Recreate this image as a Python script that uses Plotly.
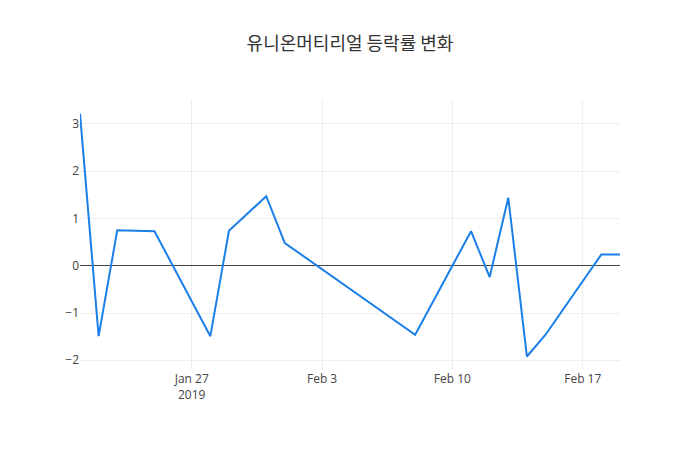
import plotly.graph_objects as go

dates = ["2019-01-21", "2019-01-22", "2019-01-23", "2019-01-25", "2019-01-28",
         "2019-01-29", "2019-01-31", "2019-02-01", "2019-02-08", "2019-02-11",
         "2019-02-12", "2019-02-13", "2019-02-14", "2019-02-15", "2019-02-18",
         "2019-02-19"]
change_pct = [3.22, -1.49, 0.75, 0.73, -1.49, 0.74, 1.47, 0.48, -1.46, 0.73,
              -0.24, 1.44, -1.92, -1.46, 0.24, 0.24]
title_text = "유니온머티리얼 등락률 변화"

fig = go.Figure()
fig.add_trace(go.Scatter(x=dates, y=change_pct, mode="lines",
                         line=dict(color="#1a7fe8", width=2)))
fig.update_layout(
    width=700, height=450,
    title=dict(text=title_text, x=0.5, xanchor="center",
               font=dict(family="Noto Sans CJK KR", size=18, color="#333")),
    font=dict(family="Open Sans", size=12, color="#444"),
    plot_bgcolor="white", paper_bgcolor="white",
    showlegend=False,
    margin=dict(l=80, r=80, t=100, b=80),
)
fig.update_xaxes(showgrid=True, gridcolor="#eee", zeroline=False)
fig.update_yaxes(showgrid=True, gridcolor="#eee", zeroline=True,
                 zerolinecolor="#444", zerolinewidth=1)
fig.write_html("out.html")
